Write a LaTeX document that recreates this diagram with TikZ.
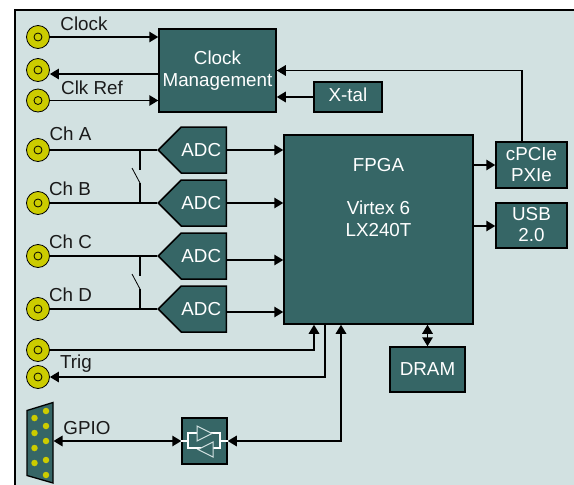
\documentclass[tikz,border=0pt]{standalone}
\usepackage{fontspec}
\setmainfont{Liberation Sans}
\usetikzlibrary{arrows.meta,shapes.symbols}
\definecolor{panelcol}{HTML}{D2E1E1}
\definecolor{boxcol}{HTML}{366666}
\definecolor{bnccol}{HTML}{CCCC00}
\definecolor{labelcol}{HTML}{1A1A1A}

\begin{document}
\begin{tikzpicture}[
  x=1pt, y=-1pt,
  >={Triangle[length=9pt,width=10.5pt]}, line width=1.5pt,
  every node/.style={font=\fontsize{18.8}{21.5}\selectfont},
  block/.style={draw,fill=boxcol,text=white,align=center,inner sep=0pt},
  adc/.style={draw,fill=boxcol,text=white,inner sep=0pt,signal,signal to=west,
    signal from=nowhere,signal pointer angle=90,minimum width=68pt,minimum height=46pt,anchor=east},
  bnc/.style={circle,draw,fill=bnccol,line width=.8pt,inner sep=0pt,minimum size=23pt,
    path picture={\draw[line width=.8pt] (path picture bounding box.center) circle (4pt);}},
  pin/.style={circle,fill=bnccol,inner sep=0pt,minimum size=6.5pt},
  signame/.style={text=labelcol,inner sep=0pt}
]
\useasboundingbox (0,0) rectangle (574,485);
\fill[panelcol] (15,10) rectangle (574,485);
\draw[line width=1.8pt] (15,485) -- (15,10) -- (574,10);

\node[bnc] (bncclock) at (38,37) {};
\node[bnc] (bncclkout) at (38,70) {};
\node[bnc] (bncclkref) at (38,100.5) {};
\node[bnc] (bnca) at (38,150) {};
\node[bnc] (bncb) at (38,203) {};
\node[bnc] (bncc) at (38,256) {};
\node[bnc] (bncd) at (38,309) {};
\node[bnc] (bnctrigin) at (38,350) {};
\node[bnc] (bnctrigout) at (38,377) {};

\node[signame] (lclock) at (84,24) {Clock};
\node[signame] (lclkref) at (92,87.5) {Clk Ref};
\node[signame] (lcha) at (70.5,134) {Ch A};
\node[signame] (lchb) at (70,189) {Ch B};
\node[signame] (lchc) at (70.5,242) {Ch C};
\node[signame] (lchd) at (70.5,295) {Ch D};
\node[signame] (ltrig) at (76,364) {Trig};
\node[signame] (lgpio) at (87,428) {GPIO};

\node[block,minimum width=117pt,minimum height=83pt] (clock) at (217.5,70.5) {Clock\\Management};
\node[block,minimum width=68pt,minimum height=30pt] (xtal) at (348,97) {\raisebox{4.5pt}{X-tal}};
\node[block,minimum width=189pt,minimum height=189pt] (fpga) at (378.5,229.5)
  {FPGA\\~\\Virtex 6\\LX240T\\~\\~\\~};
\node[block,minimum width=71pt,minimum height=46pt] (cpcie) at (531.5,165)
  {\raisebox{1pt}{cPCIe}\\\raisebox{1pt}{PXIe}};
\node[block,minimum width=71pt,minimum height=45pt] (usb) at (531.5,225.5)
  {\raisebox{2pt}{USB}\\\raisebox{2pt}{2.0}};
\node[block,minimum width=75pt,minimum height=45pt] (dram) at (427.5,369.5) {DRAM};
\node[block,minimum width=45pt,minimum height=46pt] (buffer) at (204.5,441) {};

\node[adc] (adca) at (227,150) {ADC\hspace*{5pt}};
\node[adc] (adcb) at (227,203) {ADC\hspace*{5pt}};
\node[adc] (adcc) at (227,256) {ADC\hspace*{5pt}};
\node[adc] (adcd) at (227,309) {ADC\hspace*{5pt}};

\draw[->] (bncclock) -- (bncclock -| clock.west);
\draw[->] (clock.west |- 0,74) -- (bncclkout.east |- 0,74);
\draw[->] (bncclkref) -- (bncclkref -| clock.west);
\draw[->] (xtal.west) -- (xtal.west -| clock.east);
\draw[->] (cpcie.north |- 0,142) ++(-9.5,0) |- (clock.east);

\draw (bnca) -- (adca.west);
\draw (bncb) -- (adcb.west);
\draw (bncc) -- (adcc.west);
\draw (bncd) -- (adcd.west);

\draw[->] (adca.east) -- (adca.east -| fpga.west);
\draw[->] (adcb.east) -- (adcb.east -| fpga.west);
\draw[->] ([yshift=-4pt]adcc.east) -- ([yshift=-4pt]adcc.east -| fpga.west);
\draw[->] ([yshift=-3pt]adcd.east) -- ([yshift=-3pt]adcd.east -| fpga.west);

\coordinate (swab) at (140,170);
\coordinate (swabend) at (140,183);
\coordinate (swcd) at (140,276);
\coordinate (swcdend) at (140,289);
\draw (swab |- bnca) -- (swab);
\draw (swabend |- bncb) -- (swabend);
\draw[line width=.8pt] (swabend) -- ++(-8,-15);
\draw (swcd |- bncc) -- (swcd);
\draw (swcdend |- bncd) -- (swcdend);
\draw[line width=.8pt] (swcdend) -- ++(-8,-15);

\draw[->] (fpga.east |- 0,165) -- (cpcie.west |- 0,165);
\draw[->] (fpga.east |- 0,226) -- (usb.west |- 0,226);
\draw[<->] (fpga.south -| dram.north) -- (dram.north);

\draw[->] (bnctrigin.east) -| ([xshift=-64.5pt]fpga.south);
\draw[->] ([xshift=-53.5pt]fpga.south) |- (bnctrigout.east);
\draw[<->] (buffer.east) -| ([xshift=-37.5pt]fpga.south);

\draw[line width=1.3pt,fill=boxcol] (27,410.5) -- (53,402.5) -- (53,483) -- (27,475.5) -- cycle;
\coordinate (gpioport) at (53.5,441);
\foreach \py [count=\n] in {418,433,448,463}
  \node[pin] (pinl\n) at (34.5,\py) {};
\foreach \py [count=\n] in {411,426,441,460,475}
  \node[pin] (pinr\n) at (46,\py) {};
\draw[<->] (gpioport) -- (buffer.west);

\draw[white,line width=1.5pt] (buffer.west) -- ++(6.5,0) |- ++(32,-8) |- ++(-32,15) -- ++(0,-7);
\draw[white,line width=1.5pt] (buffer.east) -- ++(-6.5,0);
\draw[panelcol,line width=1pt,fill=boxcol] (197,426) -- (212,433.5) -- (197,441) -- cycle;
\draw[panelcol,line width=1pt,fill=boxcol] (213,442) -- (198,449.5) -- (213,457) -- cycle;
\end{tikzpicture}
\end{document}
